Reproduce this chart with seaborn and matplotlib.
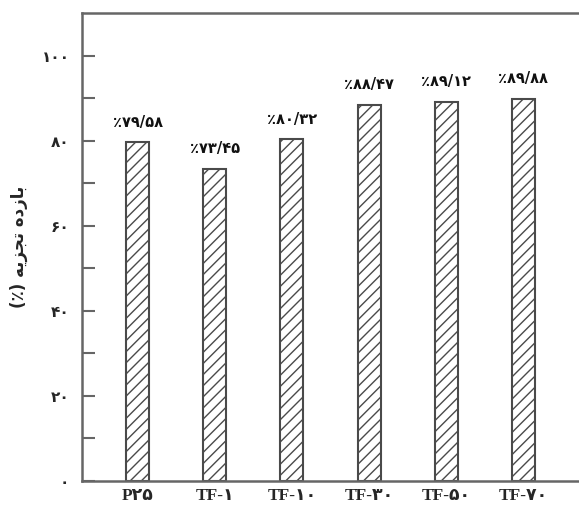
import seaborn as sns
import matplotlib.pyplot as plt

# data
samples = ["P۲۵", "TF-۱", "TF-۱۰", "TF-۳۰", "TF-۵۰", "TF-۷۰"]
efficiency = [79.58, 73.45, 80.32, 88.47, 89.12, 89.88]
bar_labels = ["٪۷۹/۵۸", "٪۷۳/۴۵", "٪۸۰/۳۲", "٪۸۸/۴۷", "٪۸۹/۱۲", "٪۸۹/۸۸"]
y_ticks = [0, 20, 40, 60, 80, 100]
y_tick_labels = ["۰", "۲۰", "۴۰", "۶۰", "۸۰", "۱۰۰"]
# "بازده تجزیه (٪)" shaped and in visual order (matplotlib has no bidi)
y_title = "(٪) ﻪﻳﺰﺠﺗ ﻩﺩﺯﺎﺑ"

sns.set_style("white")
plt.rcParams["font.family"] = ["DejaVu Sans"]
plt.rcParams["hatch.linewidth"] = 1.0
plt.rcParams["hatch.color"] = "#3a3a3a"

fig = plt.figure(figsize=(5.79, 5.16), dpi=100)
ax = fig.add_axes([0.1416, 0.0678, 0.8584, 0.907])

sns.barplot(x=samples, y=efficiency, color="white", edgecolor="#4a4a4a",
            linewidth=1.5, width=0.3, hatch="///", ax=ax, saturation=1)

""" value label above every bar """
for i, (v, lab) in enumerate(zip(efficiency, bar_labels)):
    ax.text(i, v + 4.7, lab, ha="center", va="center", fontsize=10.5,
            fontweight="bold", color="#111111")

ax.set_ylim(0, 110)
ax.set_xlim(-0.72, 5.72)
ax.set_yticks(y_ticks)
ax.set_yticklabels(y_tick_labels, fontsize=11, fontweight="bold")
ax.set_yticks([10, 30, 50, 70, 90], minor=True)
ax.tick_params(axis="y", which="both", direction="in", length=9, width=1.5,
               color="#666666", left=True, pad=9)
ax.tick_params(axis="x", length=0, pad=5)
for t in ax.get_xticklabels():
    t.set_family(["Liberation Serif", "DejaVu Sans"])
    t.set_fontweight("bold")
    t.set_fontsize(12.5)

ax.set_xlabel("")
ax.set_ylabel(y_title, fontsize=12, fontweight="bold", labelpad=10)

for side in ["left", "top", "bottom"]:
    ax.spines[side].set_color("#666666")
    ax.spines[side].set_linewidth(1.8)
ax.spines["right"].set_visible(False)

fig.savefig("out.png", dpi=100)
